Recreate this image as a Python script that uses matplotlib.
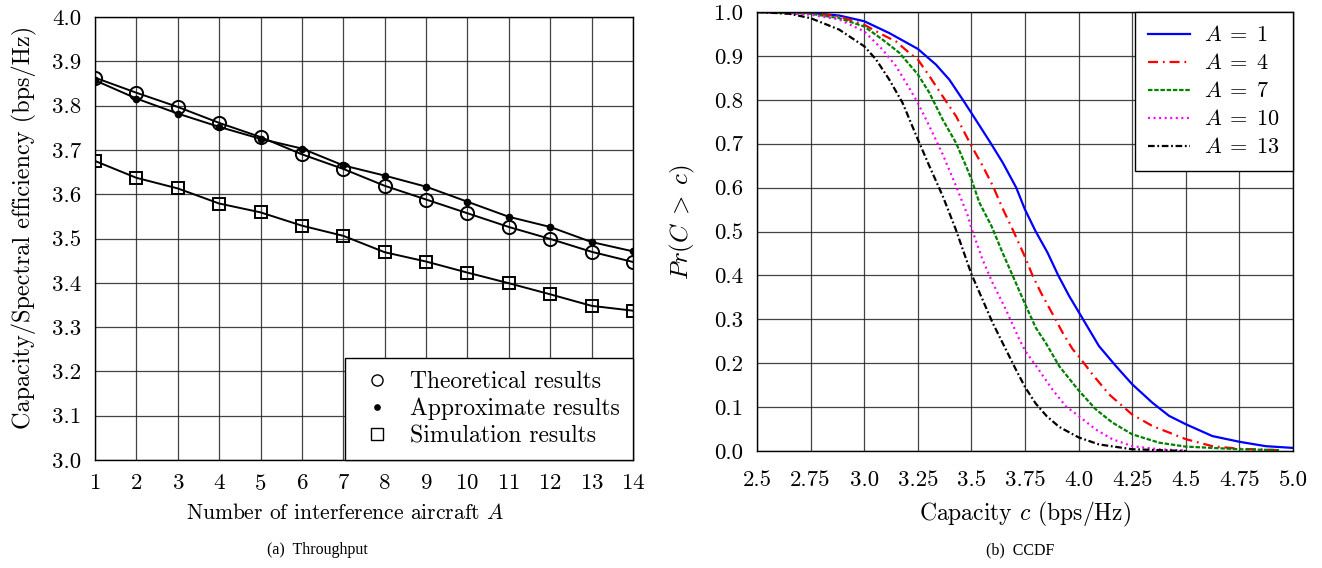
import matplotlib
matplotlib.use("Agg")
import matplotlib.pyplot as plt
from matplotlib.lines import Line2D

plt.rcParams['font.family'] = ['cmr10', 'DejaVu Serif']
plt.rcParams['mathtext.fontset'] = 'cm'
plt.rcParams['axes.formatter.use_mathtext'] = True
plt.rcParams['axes.unicode_minus'] = False

# ---------------- data: (a) Throughput ----------------
A_vals = [1, 2, 3, 4, 5, 6, 7, 8, 9, 10, 11, 12, 13, 14]
theoretical = [3.863, 3.829, 3.797, 3.761, 3.729, 3.690, 3.657, 3.619, 3.588, 3.557, 3.526, 3.499, 3.470, 3.447]
approximate = [3.857, 3.816, 3.782, 3.752, 3.725, 3.703, 3.665, 3.642, 3.617, 3.583, 3.549, 3.526, 3.492, 3.471]
simulation = [3.675, 3.637, 3.613, 3.579, 3.559, 3.529, 3.506, 3.469, 3.448, 3.423, 3.399, 3.374, 3.348, 3.337]

# ---------------- data: (b) CCDF ----------------
c_A1 = [2.5, 2.75, 2.883, 3.0, 3.117, 3.25, 3.335, 3.397, 3.46, 3.5, 3.584, 3.646, 3.709, 3.749,
        3.80, 3.855, 3.905, 3.956, 4.0, 4.095, 4.173, 4.25, 4.344, 4.422, 4.5, 4.624, 4.75, 4.873, 5.0]
p_A1 = [1.0, 0.998, 0.992, 0.979, 0.952, 0.916, 0.880, 0.846, 0.80, 0.770, 0.706, 0.657, 0.60, 0.551,
        0.5, 0.452, 0.4, 0.353, 0.317, 0.239, 0.194, 0.152, 0.110, 0.080, 0.061, 0.034, 0.021, 0.011, 0.007]

c_A4 = [2.5, 2.75, 2.883, 3.0, 3.086, 3.148, 3.210, 3.25, 3.304, 3.366, 3.428, 3.5, 3.553, 3.6, 3.646,
        3.692, 3.751, 3.785, 3.825, 3.871, 3.925, 3.972, 4.0, 4.064, 4.142, 4.25, 4.344, 4.5, 4.624, 4.75, 4.935]
p_A4 = [1.0, 0.998, 0.990, 0.971, 0.948, 0.933, 0.907, 0.892, 0.854, 0.808, 0.763, 0.695, 0.649, 0.604, 0.552,
        0.505, 0.441, 0.4, 0.36, 0.319, 0.270, 0.232, 0.216, 0.175, 0.129, 0.083, 0.057, 0.027, 0.011, 0.005, 0.002]

c_A7 = [2.5, 2.75, 2.883, 3.0, 3.086, 3.164, 3.25, 3.304, 3.366, 3.428, 3.475, 3.5, 3.537, 3.595, 3.645,
        3.692, 3.751, 3.80, 3.847, 3.910, 4.0, 4.08, 4.157, 4.25, 4.375, 4.5, 4.75, 4.935]
p_A7 = [1.0, 0.996, 0.986, 0.967, 0.937, 0.907, 0.858, 0.816, 0.755, 0.702, 0.649, 0.619, 0.566, 0.511, 0.452,
        0.4, 0.334, 0.281, 0.246, 0.193, 0.138, 0.095, 0.065, 0.038, 0.019, 0.010, 0.004, 0.002]

c_A10 = [2.5, 2.75, 2.883, 3.0, 3.086, 3.148, 3.21, 3.25, 3.304, 3.366, 3.428, 3.483, 3.5, 3.551, 3.598,
         3.660, 3.723, 3.751, 3.8, 3.878, 3.94, 4.0, 4.08, 4.157, 4.25, 4.375, 4.5]
p_A10 = [1.0, 0.994, 0.983, 0.956, 0.914, 0.877, 0.827, 0.793, 0.740, 0.676, 0.604, 0.536, 0.508, 0.437, 0.384,
         0.323, 0.255, 0.228, 0.195, 0.140, 0.102, 0.080, 0.049, 0.027, 0.011, 0.004, 0.001]

c_A13 = [2.5, 2.65, 2.75, 2.883, 3.0, 3.055, 3.117, 3.179, 3.25, 3.304, 3.366, 3.427, 3.5, 3.551, 3.598,
         3.660, 3.707, 3.751, 3.80, 3.85, 3.909, 4.0, 4.095, 4.25, 4.5]
p_A13 = [1.0, 0.996, 0.986, 0.960, 0.922, 0.892, 0.846, 0.793, 0.71, 0.649, 0.581, 0.505, 0.403, 0.346, 0.293,
         0.232, 0.186, 0.145, 0.108, 0.08, 0.055, 0.031, 0.015, 0.004, 0.0]

left_yticks = [3.0, 3.1, 3.2, 3.3, 3.4, 3.5, 3.6, 3.7, 3.8, 3.9, 4.0]
right_xticks = [2.5, 2.75, 3.0, 3.25, 3.5, 3.75, 4.0, 4.25, 4.5, 4.75, 5.0]
right_xticklabels = ["2.5", "2.75", "3.0", "3.25", "3.5", "3.75", "4.0", "4.25", "4.5", "4.75", "5.0"]
right_yticks = [0.0, 0.1, 0.2, 0.3, 0.4, 0.5, 0.6, 0.7, 0.8, 0.9, 1.0]
series_labels = ["Theoretical results", "Approximate results", "Simulation results"]
ccdf_labels = ["$A\\;=\\;1$", "$A\\;=\\;4$", "$A\\;=\\;7$", "$A\\;=\\;10$", "$A\\;=\\;13$"]

fig = plt.figure(figsize=(13.22, 5.68), dpi=100)

grid_kw = dict(color='#222222', linewidth=0.9, alpha=0.85)
tick_fs = 16.5

# ---------------- (a) ----------------
ax1 = fig.add_axes([95/1322, 1-460/568, 538/1322, 443/568])
ax1.plot(A_vals, theoretical, color='k', lw=1.4, marker='o', ms=9.5, mfc='none', mec='k', mew=1.4, zorder=3)
ax1.plot(A_vals, approximate, color='k', lw=1.4, marker='o', ms=4.5, mfc='k', mec='k', zorder=3)
ax1.plot(A_vals, simulation, color='k', lw=1.4, marker='s', ms=9, mfc='none', mec='k', mew=1.4, zorder=3)
ax1.set_xlim(1, 14)
ax1.set_ylim(3.0, 4.0)
ax1.set_xticks(A_vals)
ax1.set_yticks(left_yticks)
ax1.set_yticklabels([f"{v:.1f}" for v in left_yticks])
ax1.grid(True, **grid_kw)
ax1.set_axisbelow(True)
ax1.tick_params(direction='in', length=0, labelsize=tick_fs, pad=10)
for s in ax1.spines.values():
    s.set_linewidth(1.0)
ax1.set_xlabel("Number of interference aircraft $A$", fontsize=15.5)
ax1.xaxis.set_label_coords(0.465, -0.097)
ax1.set_ylabel("Capacity/Spectral efficiency (bps/Hz)", fontsize=17.5)
ax1.yaxis.set_label_coords(-0.108, 0.526)

h = [Line2D([], [], ls='none', marker='o', ms=8, mfc='none', mec='k', mew=1.0),
     Line2D([], [], ls='none', marker='o', ms=3.8, mfc='k', mec='k'),
     Line2D([], [], ls='none', marker='s', ms=8, mfc='none', mec='k', mew=1.0)]
leg1 = ax1.legend(h, series_labels,
                  loc='lower right', fontsize=17, frameon=True, fancybox=False,
                  borderaxespad=0.0, handlelength=1.6, handletextpad=0.6,
                  labelspacing=0.2, borderpad=0.55)
leg1.get_frame().set_edgecolor('k')
leg1.get_frame().set_linewidth(1.0)
leg1.get_frame().set_alpha(1)

# ---------------- (b) ----------------
ax2 = fig.add_axes([757/1322, 1-451/568, 536/1322, 439/568])
lw2 = 1.6
ax2.plot(c_A1, p_A1, color='#0000ff', lw=lw2, ls='-', label=ccdf_labels[0])
ax2.plot(c_A4, p_A4, color='#ff0000', lw=lw2, ls=(0, (4.5, 2.2, 0.8, 2.2)), label=ccdf_labels[1])
ax2.plot(c_A7, p_A7, color='#008000', lw=lw2, ls=(0, (2.0, 0.8)), label=ccdf_labels[2])
ax2.plot(c_A10, p_A10, color='#ff00ff', lw=lw2, ls=(0, (0.9, 1.6)), label=ccdf_labels[3])
ax2.plot(c_A13, p_A13, color='k', lw=lw2, ls=(0, (3.0, 1.2, 0.8, 1.2)), label=ccdf_labels[4])
ax2.set_xlim(2.5, 5.0)
ax2.set_ylim(0.0, 1.0)
ax2.set_xticks(right_xticks)
ax2.set_xticklabels(right_xticklabels)
ax2.set_yticks(right_yticks)
ax2.set_yticklabels([f"{v:.1f}" for v in right_yticks])
ax2.grid(True, **grid_kw)
ax2.set_axisbelow(True)
ax2.tick_params(direction='in', length=0, labelsize=tick_fs, pad=10)
ax2.tick_params(axis='x', pad=14)
for s in ax2.spines.values():
    s.set_linewidth(1.0)
ax2.set_xlabel("Capacity $c$ (bps/Hz)", fontsize=17)
ax2.xaxis.set_label_coords(0.5, -0.112)
ax2.set_ylabel("$Pr(C\\;>\\;c)$", fontsize=18)
ax2.yaxis.set_label_coords(-0.112, 0.52)
leg2 = ax2.legend(loc='upper right', fontsize=16, frameon=True, fancybox=False,
                  borderaxespad=0.0, handlelength=1.9, handletextpad=0.6,
                  labelspacing=0.36, borderpad=0.6)
leg2.get_frame().set_edgecolor('k')
leg2.get_frame().set_linewidth(1.0)
leg2.get_frame().set_alpha(1)

# captions
fig.text(317/1322, 1-550/568, "(a)  Throughput", ha='center', va='center',
         fontsize=11.5, family='Liberation Serif')
fig.text(1020/1322, 1-550/568, "(b)  CCDF", ha='center', va='center',
         fontsize=11.5, family='Liberation Serif')

fig.savefig("out.png", dpi=100)
